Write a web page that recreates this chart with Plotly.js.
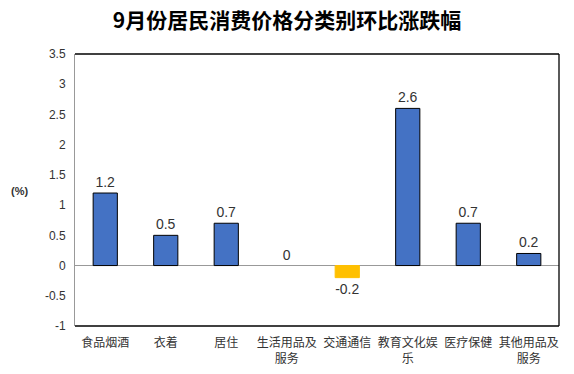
<!DOCTYPE html>
<html>
<head>
<meta charset="utf-8">
<script src="https://cdn.plot.ly/plotly-3.0.1.min.js"></script>
<style>html,body{margin:0;padding:0;background:#fff;}#chart{width:574px;height:374px;}</style>
</head>
<body>
<div id="chart"></div>
<script>
var categories = ["食品烟酒", "衣着", "居住", "生活用品及<br>服务", "交通通信", "教育文化娱<br>乐", "医疗保健", "其他用品及<br>服务"];
var values = [1.2, 0.5, 0.7, 0, -0.2, 2.6, 0.7, 0.2];
var labels = ["1.2", "0.5", "0.7", "0", "-0.2", "2.6", "0.7", "0.2"];
var yTicks = [-1, -0.5, 0, 0.5, 1, 1.5, 2, 2.5, 3, 3.5];

var colors = values.map(function(v){ return v < 0 ? "#FFC000" : "#4472C4"; });
var lineColors = values.map(function(v){ return v < 0 ? "#FFC000" : "#000000"; });
var lineWidths = values.map(function(v){ return v === 0 ? 0 : 1; });

var trace = {
  type: "bar",
  x: categories,
  y: values,
  text: labels,
  textposition: "outside",
  cliponaxis: false,
  textfont: {family: "Arial, Liberation Sans, sans-serif", size: 14, color: "#333"},
  marker: {color: colors, line: {color: lineColors, width: lineWidths}},
  width: 0.4,
  hoverinfo: "none"
};

var layout = {
  width: 574, height: 374,
  margin: {l: 75, r: 15, t: 54, b: 48},
  paper_bgcolor: "#fff", plot_bgcolor: "#fff",
  showlegend: false,
  title: {text: "<b>9月份居民消费价格分类别环比涨跌幅</b>", x: 0.5, xanchor: "center", y: 0.945, yanchor: "middle",
          font: {family: "Noto Sans CJK SC, sans-serif", size: 21, color: "#000"}},
  xaxis: {
    type: "category",
    showline: false, showgrid: false, zeroline: false, ticks: "",
    ticklabelstandoff: 8,
    tickfont: {family: "Noto Sans CJK SC, sans-serif", size: 12, color: "#333"},
    range: [-0.5, 7.5]
  },
  yaxis: {
    range: [-1, 3.5], tickvals: yTicks, ticktext: yTicks.map(String),
    showgrid: false, zeroline: true, zerolinecolor: "#999", zerolinewidth: 1,
    showline: true, linecolor: "#999", linewidth: 1, ticks: "",
    ticklabelstandoff: 6,
    tickfont: {family: "Arial, Liberation Sans, sans-serif", size: 12, color: "#333"}
  },
  shapes: [
    {type: "line", xref: "paper", yref: "paper", x0: 0, x1: 1, y0: 1, y1: 1, line: {color: "#000", width: 1.3}},
    {type: "line", xref: "paper", yref: "paper", x0: 1, x1: 1, y0: 0, y1: 1, line: {color: "#000", width: 1.3}},
    {type: "line", xref: "paper", yref: "paper", x0: 0, x1: 1, y0: 0, y1: 0, line: {color: "#000", width: 1.3}}
  ],
  annotations: [
    {text: "<b>(%)</b>", xref: "paper", yref: "paper", x: -0.115, y: 0.495, xanchor: "center", yanchor: "middle",
     showarrow: false, font: {family: "Arial, Liberation Sans, sans-serif", size: 11, color: "#333"}}
  ]
};

Plotly.newPlot("chart", [trace], layout, {displayModeBar: false, staticPlot: true});
</script>
</body>
</html>
